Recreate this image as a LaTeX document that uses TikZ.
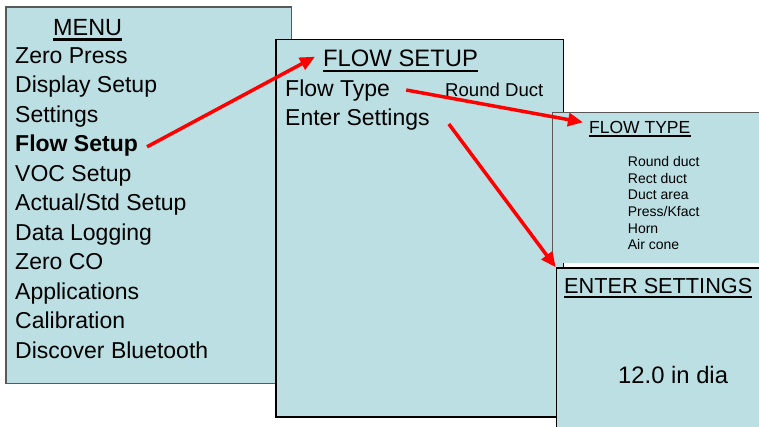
\documentclass[tikz,border=0pt]{standalone}
\usepackage{fontspec}
\setmainfont{Liberation Sans}
\usetikzlibrary{arrows.meta}
\definecolor{panelblue}{RGB}{187,223,226}
\newcommand\setfs[1]{\fontsize{#1}{#1}\selectfont}

\tikzset{
    panel/.style = {draw = black, line width = 1.5pt, fill = panelblue, anchor = north west, inner sep = 0pt},
    item/.style = {anchor = base west, inner sep = 0pt, font = \setfs{23}},
    heading/.style = {anchor = base west, inner sep = 0pt,
        append after command = {([yshift=-#1]\tikzlastnode.south west) edge[line width = 2.3pt] ([yshift=-#1]\tikzlastnode.south east)}},
    heading/.default = 4pt,
    redarrow/.style = {red, line width = 3.5pt, -{Triangle[length = 15pt, width = 13pt]}}
}

\begin{document}
\begin{tikzpicture}[x = 1pt, y = -1pt]
    \useasboundingbox (0,0) rectangle (759,426);

    % main menu
    \node[panel, draw = black!65, minimum width = 285.5pt, minimum height = 376.5pt] (menu) at (5,6) {};
    \node[heading, font = \setfs{23.4}] (menutitle) at (53,35) {MENU};
    \foreach \lbl [count = \i from 0] in {Zero Press, Display Setup, Settings, \textbf{Flow Setup}, VOC Setup,
        Actual/Std Setup, Data Logging, Zero CO, Applications, Calibration, Discover Bluetooth}
        \node[item] (menu\i) at (15,63.3+29.5*\i) {\lbl};

    % flow setup
    \node[panel, minimum width = 287.5pt, minimum height = 377.5pt] (flowsetup) at (275,38.5) {};
    \node[heading, font = \setfs{23.8}] (flowsetuptitle) at (323,66.7) {FLOW SETUP};
    \node[item] (flowtypeitem) at (285,96) {Flow Type};
    \node[item] (entersettingsitem) at (285,125) {Enter Settings};
    \node[item, font = \setfs{18.6}] (roundduct) at (445,96) {Round Duct};

    % flow type
    \node[panel, draw = none, minimum width = 230pt, minimum height = 150pt] (flowtype) at (552.7,112.7) {};
    \draw[black!65, line width = 1.5pt] (flowtype.south west) |- (flowtype.north east);
    \node[heading = 2.5pt, font = \setfs{17.5}] (flowtypetitle) at (589,133.3) {FLOW TYPE};
    \foreach \lbl [count = \i from 0] in {Round duct, Rect duct, Duct area, Press/Kfact, Horn, Air cone}
        \node[item, font = \setfs{14}] (type\i) at (627.7,166.7+16.6*\i) {\lbl};

    % enter settings
    \node[panel, minimum width = 230pt, minimum height = 175pt] (entersettings) at (555.7,267.3) {};
    \node[heading = 3.5pt, font = \setfs{21.7}] (entersettingstitle) at (564,293.3) {ENTER SETTINGS};
    \node[item, font = \setfs{23.8}] (diameter) at (618,383.3) {12.0 in dia};

    % arrows
    \draw[redarrow] ([shift = {(9,-5)}]menu3.base east) -- ([shift = {(-8,-10)}]flowsetuptitle.base west);
    \draw[redarrow] ([shift = {(16,-6)}]flowtypeitem.base east) -- ([shift = {(-6,-11)}]flowtypetitle.base west);
    \draw[redarrow] ([shift = {(19,-1)}]entersettingsitem.base east) -- (entersettings.north west);
\end{tikzpicture}
\end{document}
